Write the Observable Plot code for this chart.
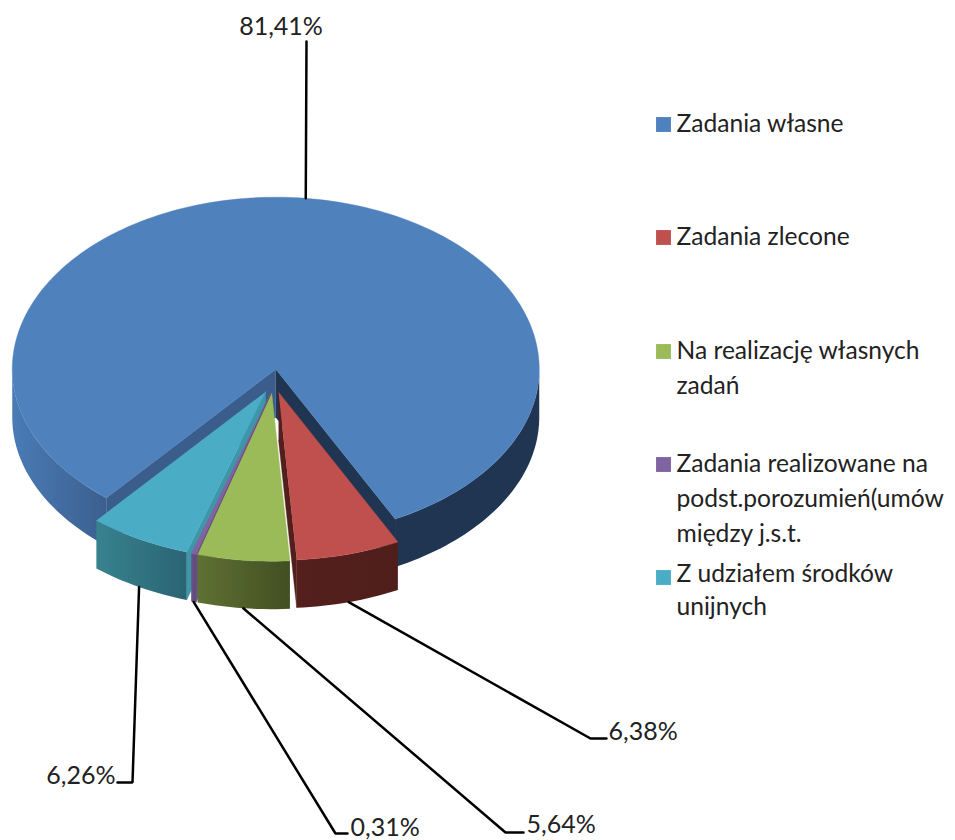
<!DOCTYPE html>
<html>
<head>
<meta charset="utf-8">
<script src="https://cdn.jsdelivr.net/npm/d3@7"></script>
<script src="https://cdn.jsdelivr.net/npm/@observablehq/plot@0.6"></script>
<style>
html,body{margin:0;padding:0;background:#fff}
svg{display:block}
</style>
</head>
<body>
<div id="chart"></div>
<script>
// ---- data ----
const categories = ["Zadania własne", "Zadania zlecone", "Na realizację własnych", "Zadania realizowane na", "Z udziałem środków"];
const categoryContinuation = ["", "", "zadań", "podst.porozumień(umów\nmiędzy j.s.t.", "unijnych"];
const shares = [81.41, 6.38, 5.64, 0.31, 6.26];
const shareLabels = ["81,41%", "6,38%", "5,64%", "0,31%", "6,26%"];

// ---- styles and layout ----
const topColors = ["#4f81bd", "#c0504d", "#9bbb59", "#8064a2", "#4bacc6"];
const radialWallColors = ["#3b5d8b", "#531f1c", "#4e5f2c", "#66507f", "#3c97a9"];
const outerWalls = [
  {id: "wb", x1: 12, x2: 300, stops: ["#4a7bb5", "#1f3552"], mid: ["#3a5d8c", 106 / 300]},
  {id: "wr", x1: 296, x2: 397, stops: ["#541f1c", "#4f1e1b"]},
  {id: "wg", x1: 197, x2: 290, stops: ["#5f7133", "#414f22"]},
  {id: "wp", x1: 188, x2: 197, stops: ["#6f568d", "#5c4878"]},
  {id: "wt", x1: 95, x2: 187, stops: ["#38828f", "#2a6473"]}
];
const CX = 275.25, CY = 368.7, RX = 263.5, RY_TOP = 172, RY_BOTTOM = 168, DEPTH = 48;
const offsets = [[0, 0], [2.8, 23], [-4, 24], [-5.5, 24], [-10, 22.5]];
const startAngle = 220;
// label anchors: elbow, tail end, text anchor
const leaders = [
  {elbow: null, end: [306, 41], text: [280.5, 26], anchor: "middle"},
  {elbow: [590, 738], end: [606, 738], text: [608, 731], anchor: "start"},
  {elbow: [505, 832], end: [523, 832], text: [526, 824], anchor: "start"},
  {elbow: [335, 833], end: [347, 833], text: [350, 827], anchor: "start"},
  {elbow: [132, 782], end: [117, 782], text: [115, 775], anchor: "end"}
];
const legendY = [124, 237, 351, 464, 577];
const legendLineHeight = [1.44, 1.44, 1.44, 1.44, 1.31];

// ---- geometry derived from the shares ----
const rad = d => d * Math.PI / 180;
function rim(angle, off, dy = 0) {
  const c = Math.cos(rad(angle));
  return {x: CX + RX * Math.sin(rad(angle)) + off[0],
          y: CY - (c > 0 ? RY_TOP : RY_BOTTOM) * c + off[1] + dy};
}
const apex = (off, dy = 0) => ({x: CX + off[0], y: CY + off[1] + dy});
function arc(a0, a1, off, dy = 0) {
  const n = Math.max(2, Math.ceil(Math.abs(a1 - a0) / 1.5));
  return d3.range(n + 1).map(i => rim(a0 + (a1 - a0) * i / n, off, dy));
}
let acc = startAngle;
const slices = shares.map((v, i) => {
  const a0 = acc, a1 = acc + v * 3.6;
  acc = a1;
  return {i, a0, a1, mid: (a0 + a1) / 2, off: offsets[i]};
});

const poly = (pts, fill) => Plot.line(pts, {x: "x", y: "y", fill, stroke: fill.startsWith("url") ? "none" : fill, strokeWidth: 0.4, curve: "linear"});

function sliceMarks(s) {
  const {i, a0, a1, off} = s;
  const marks = [];
  if (i === 0) {
    // the big slice: only its visible outer-wall runs
    marks.push(poly([...arc(a0, 270, off), ...arc(270, a0, off, DEPTH)], "url(#wb)"));
    marks.push(poly([...arc(450, a1, off), ...arc(a1, 450, off, DEPTH)], "url(#wb)"));
    marks.push(poly([apex(off), rim(a0, off), rim(a0, off, DEPTH), apex(off, DEPTH)], radialWallColors[0]));
    marks.push(poly([apex(off), rim(a1, off), rim(a1, off, DEPTH), apex(off, DEPTH)], "#1f3552"));
  } else {
    // front-facing radial wall: left side for the red slice, right side for those left of centre
    const wallAngle = i === 1 ? a1 : a0;
    if (i !== 2) marks.push(poly([apex(off), rim(wallAngle, off), rim(wallAngle, off, DEPTH), apex(off, DEPTH)], radialWallColors[i]));
    marks.push(poly([...arc(a0, a1, off), ...arc(a1, a0, off, DEPTH)], `url(#${outerWalls[i].id})`));
  }
  marks.push(poly([apex(off), ...arc(a0, a1, off)], topColors[i]));
  return marks;
}

const defsMark = () => {
  const defs = d3.create("svg:defs");
  for (const w of outerWalls) {
    const g = defs.append("linearGradient").attr("id", w.id).attr("gradientUnits", "userSpaceOnUse")
      .attr("x1", w.x1).attr("x2", w.x2).attr("y1", 0).attr("y2", 0);
    g.append("stop").attr("offset", 0).attr("stop-color", w.stops[0]);
    if (w.mid) g.append("stop").attr("offset", w.mid[1]).attr("stop-color", w.mid[0]);
    g.append("stop").attr("offset", 1).attr("stop-color", w.stops[1]);
  }
  return defs.node();
};

// drawing order: big slice, then the exploded ones from left to right
const order = [0, 4, 3, 2, 1];
const leaderRows = slices.flatMap(s => {
  const l = leaders[s.i];
  const start = s.i === 0 ? rim(s.mid, s.off) : rim(s.mid, s.off, DEPTH);
  const pts = [start];
  if (l.elbow) pts.push({x: l.elbow[0], y: l.elbow[1]});
  pts.push({x: l.end[0], y: l.end[1]});
  return pts.map(p => ({...p, k: s.i}));
});
const shareRows = shareLabels.map((t, i) => ({t, x: leaders[i].text[0], y: leaders[i].text[1], a: leaders[i].anchor}));
const legendRows = categories.map((c, i) => ({
  t: categoryContinuation[i] ? c + "\n" + categoryContinuation[i] : c,
  y: legendY[i], c: topColors[i], lh: legendLineHeight[i]
}));

const font = "Lato, Carlito, sans-serif";
const chart = Plot.plot({
  width: 955, height: 840, margin: 0,
  style: {background: "#fff"},
  x: {domain: [0, 955], range: [0, 955], axis: null},
  y: {domain: [0, 840], range: [0, 840], axis: null},
  marks: [
    defsMark,
    ...order.flatMap(i => sliceMarks(slices[i])),
    Plot.line(leaderRows, {x: "x", y: "y", z: "k", stroke: "#000", strokeWidth: 2.5, curve: "linear", strokeLinejoin: "miter"}),
    ...["start", "middle", "end"].map(a => Plot.text(shareRows.filter(d => d.a === a), {
      x: "x", y: "y", text: "t", textAnchor: a, fontSize: 25, fontFamily: font, fill: "#222"
    })),
    Plot.dot(legendRows, {x: () => 663, y: "y", fill: "c", symbol: "square", r: 8.4, stroke: "none"}),
    ...[...new Set(legendLineHeight)].map(lh => Plot.text(legendRows.filter(d => d.lh === lh), {
      x: () => 676, y: "y", text: "t", textAnchor: "start", lineAnchor: "top", dy: -18,
      lineHeight: lh, fontSize: 24.6, fontFamily: font, fill: "#222"
    }))
  ]
});
document.getElementById("chart").append(chart);
</script>
</body>
</html>
